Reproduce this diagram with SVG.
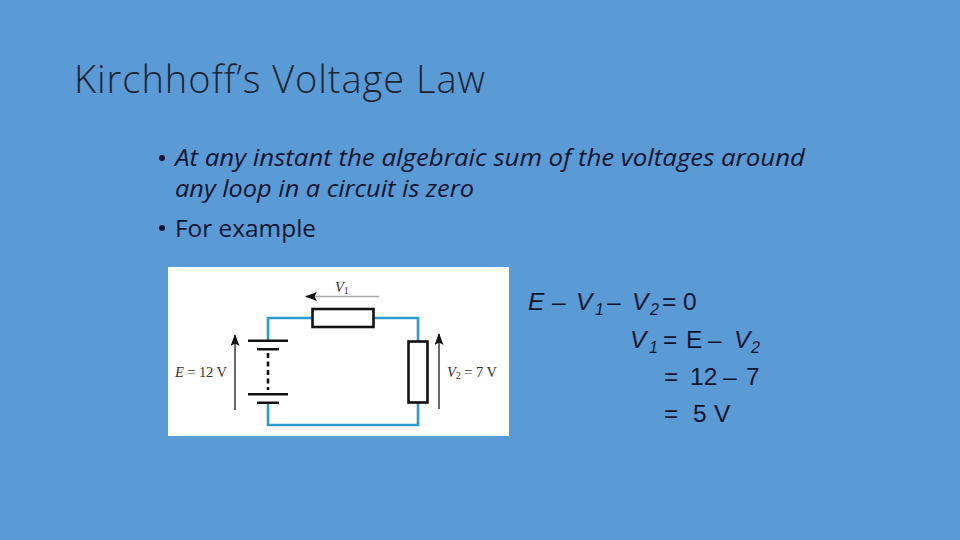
<svg xmlns="http://www.w3.org/2000/svg" width="960" height="540" viewBox="0 0 960 540">
<style>
.t{font-family:"Open Sans","Noto Sans",sans-serif;fill:#0b1430;font-variant-ligatures:none}
.e{font-family:"Liberation Sans",Arial,sans-serif;font-size:24.500px;fill:#0b1430}
.i{font-style:italic}
.s{font-size:16px;font-style:italic}
.c{font-family:"Liberation Serif","Times New Roman",serif;font-size:14.500px;fill:#333}
.w{fill:none;stroke:#2a9ccf;stroke-width:2.6}
.k{fill:none;stroke:#111;stroke-width:2.6}
.a{fill:none;stroke:#444;stroke-width:1.6}
.b{fill:#fff;stroke:#111;stroke-width:2.6}
</style>
<defs>
<marker id="h" markerWidth="14" markerHeight="12" refX="11" refY="4.500" orient="auto" markerUnits="userSpaceOnUse"><path d="M0 0L12 4.500L0 9L2.500 4.500Z" fill="#111"/></marker>
</defs>
<rect width="960" height="540" fill="#5b9bd5"/>
<text id="title" class="t" x="74" y="93" font-size="38" font-weight="300" style="fill:#1a2433" textLength="411" lengthAdjust="spacing">Kirchhoff’s Voltage Law</text>
<g id="bullets" class="t" font-size="24">
<circle cx="162" cy="158" r="3" fill="#0b1430"/>
<text x="175" y="166" font-style="italic" textLength="630" lengthAdjust="spacingAndGlyphs">At any instant the algebraic sum of the voltages around</text>
<text x="175" y="197" font-style="italic" textLength="299" lengthAdjust="spacingAndGlyphs">any loop in a circuit is zero</text>
<circle cx="162" cy="228" r="3" fill="#0b1430"/>
<text x="175" y="237" textLength="141" lengthAdjust="spacingAndGlyphs">For example</text>
</g>
<rect id="panel" x="168" y="267" width="341" height="169" fill="#fff"/>
<g id="connectors">
<path class="w" d="M312 318H268V341M268 403V425H418V403M418 341V318H373"/>
<path class="a" style="stroke:#aaa" d="M379 296.500H312"/>
<path class="a" d="M314 296.500H306" marker-end="url(#h)"/>
<path class="a" d="M235 410V335" marker-end="url(#h)"/>
<path class="a" d="M439 409V334" marker-end="url(#h)"/>
</g>
<g id="battery">
<path class="k" d="M248 340.700H288M257 349.300H279M248 394.300H288M257 402.800H279"/>
<path class="k" stroke-dasharray="5 3.500" d="M268 353V390"/>
</g>
<g id="r1"><rect class="b" x="312.500" y="309" width="61" height="18"/></g>
<g id="r2"><rect class="b" x="408.500" y="341.500" width="19" height="61"/></g>
<g id="labels" class="c">
<text x="335" y="292" class="c i" font-size="15">V<tspan font-size="10" font-style="normal" dy="2">1</tspan></text>
<text x="175" y="377" textLength="52"><tspan class="i">E</tspan> = 12 V</text>
<text x="447" y="377" textLength="50"><tspan class="i">V</tspan><tspan font-size="10" dy="2">2</tspan><tspan dy="-2"> = 7 V</tspan></text>
</g>
<g id="equations" class="e">
<text x="528" y="310" class="i">E</text><text x="552" y="310">–</text><text x="576" y="310" class="i">V</text><text x="595" y="315" class="s">1</text><text x="607" y="310">–</text><text x="632" y="310" class="i">V</text><text x="650" y="315" class="s">2</text><text x="662" y="310">=</text><text x="683" y="310">0</text>
<text x="630" y="348" class="i">V</text><text x="649" y="353" class="s">1</text><text x="663" y="348">=</text><text x="686" y="348">E</text><text x="708" y="348">–</text><text x="734" y="348" class="i">V</text><text x="751" y="353" class="s">2</text>
<text x="664" y="385">=</text><text x="690" y="385">12</text><text x="723" y="385">–</text><text x="746" y="385">7</text>
<text x="664" y="422">=</text><text x="693" y="422">5</text><text x="714" y="422">V</text>
</g>
</svg>
